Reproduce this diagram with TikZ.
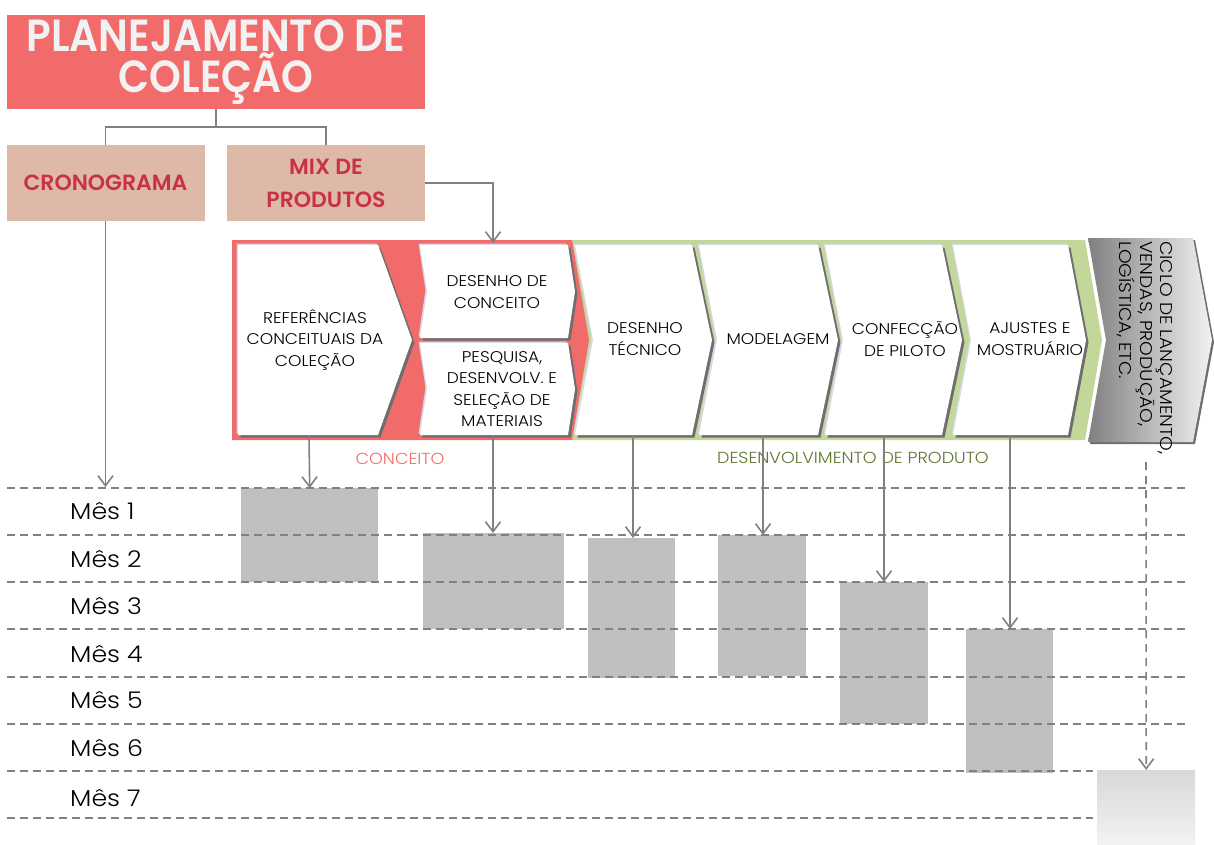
\documentclass[tikz,border=0pt]{standalone}
\usepackage{fontspec}
\setmainfont{Poppins}
\newfontfamily\wide[FakeStretch=1.1]{Poppins Light}
\newfontfamily\titlef[FakeStretch=0.9]{Poppins SemiBold}
\newfontfamily\subf{Poppins SemiBold}
\usetikzlibrary{arrows.meta}
\definecolor{titlered}{HTML}{F26B6B}
\definecolor{titletext}{HTML}{F2F2F2}
\definecolor{subfill}{HTML}{DFB9A7}
\definecolor{subtext}{HTML}{C9314B}
\definecolor{greenpanel}{HTML}{C4D79B}
\definecolor{olive}{HTML}{5F7530}
\definecolor{boxgray}{HTML}{BFBFBF}
\definecolor{linegray}{HTML}{808080}
\definecolor{lav}{HTML}{D5D8E5}
\definecolor{shadowgray}{HTML}{6E6E6E}
\newcommand\chevshape[7]{%
  \path[#7] (#1,#2) -- (#4,#2) -- ({#4+#5},{(#2+#3)/2}) -- (#4,#3) -- (#1,#3) -- ({#1+#6},{(#2+#3)/2}) -- cycle;}
\newcommand\chev[6]{%
  \chevshape{#1}{#2}{#3}{#4}{#5}{#6}{fill=lav, shift={(-1.5,-1.5)}}%
  \chevshape{#1}{#2}{#3}{#4}{#5}{#6}{fill=shadowgray, shift={(2.5,2.5)}}%
  \chevshape{#1}{#2}{#3}{#4}{#5}{#6}{fill=white}}
\begin{document}
\begin{tikzpicture}[x=1pt,y=-1pt,
  titlebox/.style={fill=titlered, text=titletext, align=center, inner sep=0pt,
    font=\titlef\fontsize{45}{40}\selectfont},
  subbox/.style={fill=subfill, text=subtext, align=center, inner sep=0pt,
    minimum width=198pt, minimum height=76pt, font=\subf\fontsize{22}{33}\selectfont},
  ctext/.style={align=center, inner sep=0pt, font=\wide\fontsize{15.5}{21.5}\selectfont},
  month/.style={anchor=west, inner sep=0pt, font=\wide\fontsize{23}{26}\selectfont},
  gbox/.style={fill=boxgray, inner sep=0pt, anchor=north west},
  conn/.style={draw=linegray, line width=1.6pt},
  arr/.style={conn, -{Straight Barb[length=10pt,width=15pt]}},
  gridline/.style={draw=linegray, line width=1.6pt, dash pattern=on 8pt off 5pt},
  panellabel/.style={inner sep=0pt, font=\wide\fontsize{16}{18}\selectfont}]
\useasboundingbox (0,0) rectangle (1214,844);
% top hierarchy
\node[titlebox, minimum width=418pt, minimum height=94pt] (title) at (216,62) {\raisebox{-3pt}{\shortstack{PLANEJAMENTO DE\\[-2pt]COLEÇÃO}}};
\node[subbox] (cron) at (105.5,183) {CRONOGRAMA};
\node[subbox] (mix) at (326,183) {MIX DE\\PRODUTOS};
\draw[conn] (title.south) -- ++(0,18) -| (cron.north);
\draw[conn] (title.south) -- ++(0,18) -| (mix.north);
% panels
\fill[greenpanel] (572,240) -- (1085,240) -- (1102,340) -- (1085,440) -- (572,440) -- cycle;
\fill[titlered] (232,240) -- (572,240) -- (589,340) -- (572,440) -- (232,440) -- cycle;
% chevrons
\chev{238}{245}{435}{378}{34}{0}
\chev{420}{245}{338}{568}{7}{7}
\chev{420}{343}{435}{568}{7}{7}
\chev{575}{245}{435}{692}{20}{18}
\chev{699}{245}{435}{818}{20}{18}
\chev{825}{245}{435}{942}{20}{18}
\chev{953}{245}{435}{1068}{18}{18}
\chevshape{1088}{238}{442}{1193}{19}{18}{fill=shadowgray, shift={(2,2)}}
\chevshape{1088}{238}{442}{1193}{19}{18}{left color=linegray, right color=titletext}
% chevron texts
\node[ctext] (ref) at (315,340) {REFERÊNCIAS\\CONCEITUAIS DA\\COLEÇÃO};
\node[ctext] (dconc) at (497,292) {DESENHO DE\\CONCEITO};
\node[ctext] (pesq) at (502,389) {PESQUISA,\\DESENVOLV. E\\SELEÇÃO DE\\MATERIAIS};
\node[ctext] (dtec) at (645,339) {DESENHO\\TÉCNICO};
\node[ctext] (mod) at (778,339) {MODELAGEM};
\node[ctext] (conf) at (905,339) {CONFECÇÃO\\DE PILOTO};
\node[ctext] (ajus) at (1030,339) {AJUSTES E\\MOSTRUÁRIO};
\node[ctext, rotate=-90, anchor=north west, align=left, font=\wide\fontsize{17}{20.5}\selectfont] (ciclo) at (1173,241) {CICLO DE LANÇAMENTO,\\VENDAS, PRODUÇÃO,\\LOGÍSTICA, ETC.};
\node[panellabel, text=titlered] (lconc) at (400,459) {CONCEITO};
\node[panellabel, text=olive] (ldes) at (853,458) {DESENVOLVIMENTO DE PRODUTO};
% connector end points on the chevrons
\coordinate (dcT) at (493,243);
\coordinate (refB) at (309,435);
\coordinate (pesqB) at (493,435);
\coordinate (dtecB) at (633,435);
\coordinate (modB) at (763,435);
\coordinate (confB) at (884,435);
\coordinate (ajusB) at (1010,435);
\coordinate (cicloB) at (1146,462);
\coordinate (cronE) at (105.5,487);
% time boxes
\node[gbox, minimum width=137pt, minimum height=94pt] (b1) at (241,488) {};
\node[gbox, minimum width=141pt, minimum height=96pt] (b2) at (423,533) {};
\node[gbox, minimum width=87pt, minimum height=140pt] (b3) at (588,538) {};
\node[gbox, minimum width=88pt, minimum height=141pt] (b4) at (718,535) {};
\node[gbox, minimum width=88pt, minimum height=142pt] (b5) at (840,582) {};
\node[gbox, minimum width=87pt, minimum height=144pt] (b6) at (966,629) {};
\node[anchor=north west, inner sep=0pt, minimum width=98pt, minimum height=74pt,
  top color=boxgray!60, bottom color=titletext] (b7) at (1097,770) {};
% month grid
\foreach \y in {488,535,582,629,677,724} \draw[gridline] (7,\y) -- (1187,\y);
\foreach \y in {771,818} \draw[gridline] (7,\y) -- (1093,\y);
\node[month] (m1) at (70,511) {Mês 1};
\node[month] (m2) at (70,559) {Mês 2};
\node[month] (m3) at (70,606) {Mês 3};
\node[month] (m4) at (70,654) {Mês 4};
\node[month] (m5) at (70,700) {Mês 5};
\node[month] (m6) at (70,748) {Mês 6};
\node[month] (m7) at (70,798) {Mês 7};
% arrows
\draw[arr] (mix.east) -| (dcT);
\draw[arr] (cron.south) -- (cronE);
\draw[arr] (refB) -- (b1.north);
\draw[arr] (pesqB) -- (pesqB |- b2.north);
\draw[arr] (dtecB) -- (dtecB |- b3.north);
\draw[arr] (modB) -- (modB |- b4.north);
\draw[arr] (confB) -- (confB |- b5.north);
\draw[arr] (ajusB) -- (ajusB |- b6.north);
\draw[arr, dash pattern=on 8pt off 6pt] (cicloB) -- (b7.north);
\end{tikzpicture}
\end{document}
